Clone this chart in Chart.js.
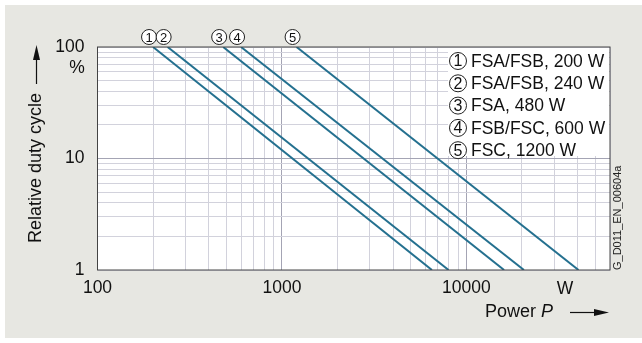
<!DOCTYPE html>
<html>
<head>
<meta charset="utf-8">
<script src="https://cdn.jsdelivr.net/npm/chart.js@4/dist/chart.umd.min.js"></script>
<style>
  body { margin: 0; background: #fff; }
  #wrap { width: 642px; height: 343px; position: relative; }
</style>
</head>
<body>
<div id="wrap"><canvas id="c" width="642" height="343"></canvas></div>
<script>
// rated power of each unit (W) where the line starts at 100 %
const powerStart = [200, 240, 480, 600, 1200];
// power (W) where each line reaches 1 %
const powerEnd = [6500, 8000, 16000, 20500, 40500];
const dutyStart = 100;
const dutyEnd = 1;
const seriesNames = ['FSA/FSB, 200 W', 'FSA/FSB, 240 W', 'FSA, 480 W', 'FSB/FSC, 600 W', 'FSC, 1200 W'];
const xTicks = [100, 200, 300, 400, 500, 600, 700, 800, 900, 1000, 2000, 3000, 4000, 5000, 6000, 7000, 8000, 9000, 10000, 20000, 30000, 40000, 50000, 60000];
const xLabels = [100, 1000, 10000];
const yTicks = [1, 2, 3, 4, 5, 6, 7, 8, 9, 10, 20, 30, 40, 50, 60, 70, 80, 90, 100];
const yLabels = [1, 10, 100];

const lineColor = '#24708f';
const font = 'Liberation Sans, Arial, sans-serif';

const datasets = powerStart.map((p, i) => ({
    label: seriesNames[i],
    data: [{x: p, y: dutyStart}, {x: powerEnd[i], y: dutyEnd}],
    borderColor: lineColor,
    borderWidth: 2,
    pointRadius: 0,
    fill: false
}));

function circled(ctx, n, x, y, r, size) {
    ctx.beginPath();
    ctx.arc(x, y, r, 0, Math.PI * 2);
    ctx.fillStyle = '#fff';
    ctx.fill();
    ctx.lineWidth = 1;
    ctx.strokeStyle = '#222';
    ctx.stroke();
    ctx.fillStyle = '#111';
    ctx.font = size + 'px ' + font;
    ctx.textAlign = 'center';
    ctx.textBaseline = 'middle';
    ctx.fillText(String(n), x, y + 1);
}

const decor = {
    id: 'decor',
    beforeDraw(chart) {
        const ctx = chart.ctx;
        const a = chart.chartArea;
        ctx.save();
        ctx.fillStyle = '#fff';
        ctx.fillRect(0, 0, chart.width, chart.height);
        ctx.fillStyle = '#e7e7e2';
        ctx.fillRect(5, 5, chart.width - 5, chart.height - 10);
        ctx.fillStyle = '#fff';
        ctx.fillRect(a.left, a.top, a.right - a.left, a.bottom - a.top);
        ctx.restore();
    },
    afterDraw(chart) {
        const ctx = chart.ctx;
        const a = chart.chartArea;
        const xs = chart.scales.x;
        ctx.save();
        // frame
        ctx.strokeStyle = '#444';
        ctx.lineWidth = 1;
        ctx.strokeRect(a.left, a.top, a.right - a.left, a.bottom - a.top);

        // legend box
        ctx.fillStyle = '#fff';
        ctx.fillRect(448, a.top + 1, a.right - 449, 108);
        powerStart.forEach((p, i) => {
            const y = 61 + i * 22.3;
            circled(ctx, i + 1, 458, y, 8.5, 16);
            ctx.fillStyle = '#111';
            ctx.font = '17.5px ' + font;
            ctx.textAlign = 'left';
            ctx.textBaseline = 'middle';
            ctx.fillText(seriesNames[i], 471, y + 1);
        });

        // numbers above line starts
        powerStart.forEach((p, i) => {
            circled(ctx, i + 1, xs.getPixelForValue(p) - 4, 37, 7.5, 13);
        });

        // "%" under 100, unit W
        ctx.fillStyle = '#111';
        ctx.font = '17.5px ' + font;
        ctx.textAlign = 'center';
        ctx.textBaseline = 'middle';
        ctx.fillText('%', 77, 68);
        ctx.fillText('W', 565, 289);

        // y title with arrow
        ctx.save();
        ctx.translate(36, 168);
        ctx.rotate(-Math.PI / 2);
        ctx.font = '18px ' + font;
        ctx.fillText('Relative duty cycle', 0, 0);
        ctx.restore();
        ctx.strokeStyle = '#111';
        ctx.lineWidth = 1.2;
        ctx.beginPath();
        ctx.moveTo(36.5, 84);
        ctx.lineTo(36.5, 58);
        ctx.stroke();
        ctx.beginPath();
        ctx.moveTo(36.5, 45);
        ctx.lineTo(33, 60);
        ctx.lineTo(40, 60);
        ctx.closePath();
        ctx.fill();

        // x title with arrow
        ctx.textAlign = 'left';
        ctx.font = '18px ' + font;
        ctx.fillText('Power ', 485, 312);
        const w = ctx.measureText('Power ').width;
        ctx.font = 'italic 18px ' + font;
        ctx.fillText('P', 485 + w, 312);
        ctx.beginPath();
        ctx.moveTo(570, 312.5);
        ctx.lineTo(596, 312.5);
        ctx.stroke();
        ctx.beginPath();
        ctx.moveTo(609, 312.5);
        ctx.lineTo(594, 309);
        ctx.lineTo(594, 316);
        ctx.closePath();
        ctx.fill();

        // drawing id
        ctx.save();
        ctx.translate(618, 270);
        ctx.rotate(-Math.PI / 2);
        ctx.font = '11px ' + font;
        ctx.fillStyle = '#222';
        ctx.textAlign = 'left';
        ctx.fillText('G_D011_EN_00604a', 0, 0);
        ctx.restore();
        ctx.restore();
    }
};

new Chart(document.getElementById('c'), {
    type: 'line',
    data: { datasets: datasets },
    options: {
        responsive: false,
        animation: false,
        layout: { padding: { top: 47, right: 32, left: 0, bottom: 0 } },
        plugins: { legend: { display: false }, tooltip: { enabled: false } },
        scales: {
            x: {
                type: 'logarithmic',
                min: 100,
                max: 60000,
                afterBuildTicks: s => { s.ticks = xTicks.map(v => ({value: v})); },
                afterFit: s => { s.height = 73; },
                grid: {
                    drawTicks: false,
                    color: c => (c.tick && (c.tick.value === 1000 || c.tick.value === 10000)) ? '#a4a4b4' : '#d2d2dc',
                    lineWidth: 1
                },
                border: { display: false },
                ticks: {
                    autoSkip: false,
                    maxRotation: 0,
                    padding: 8,
                    color: '#111',
                    font: { family: font, size: 17.5 },
                    callback: v => xLabels.includes(v) ? String(v) : ''
                }
            },
            y: {
                type: 'logarithmic',
                min: 1,
                max: 100,
                afterBuildTicks: s => { s.ticks = yTicks.map(v => ({value: v})); },
                afterFit: s => { s.width = 97.5; },
                grid: {
                    drawTicks: false,
                    color: c => (c.tick && c.tick.value === 10) ? '#a4a4b4' : '#d2d2dc',
                    lineWidth: 1
                },
                border: { display: false },
                ticks: {
                    autoSkip: false,
                    padding: 13,
                    color: '#111',
                    font: { family: font, size: 17.5 },
                    callback: v => yLabels.includes(v) ? String(v) : ''
                }
            }
        }
    },
    plugins: [decor]
});
</script>
</body>
</html>
